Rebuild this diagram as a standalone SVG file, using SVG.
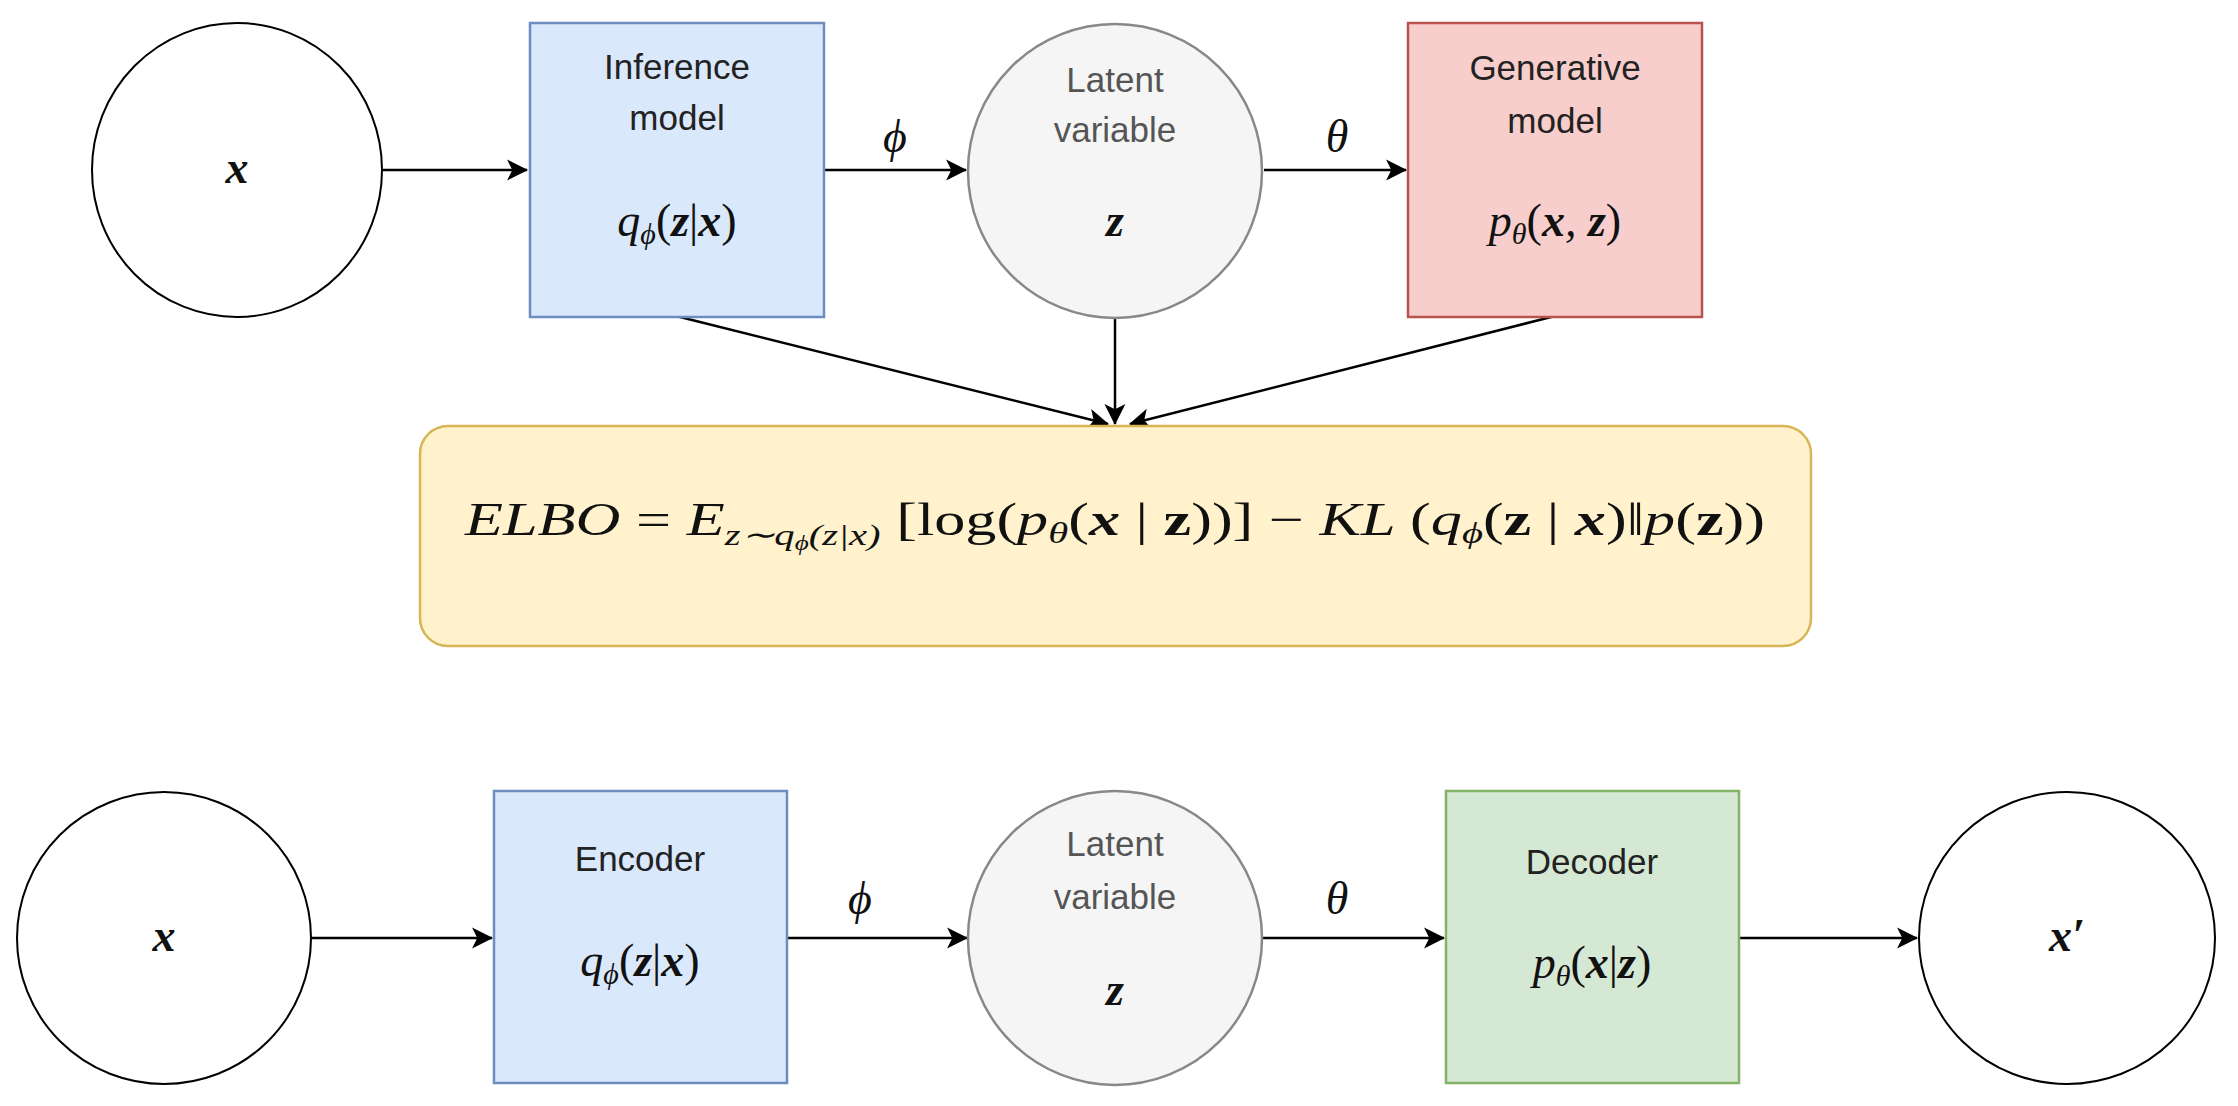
<svg xmlns="http://www.w3.org/2000/svg" width="2238" height="1106" viewBox="0 0 2238 1106">
<style>
.lbl{font-family:"Liberation Sans",Arial,sans-serif;font-size:35px;fill:#222;text-anchor:middle}
.gl{fill:#555}
.m{font-family:"Liberation Serif","Times New Roman",serif;font-style:italic;font-size:46px;fill:#111;text-anchor:middle}
.mb{font-weight:bold}
.up{font-style:normal}
.s{font-size:30px}
.c{stroke-width:2.5;stroke:#000;fill:none}
</style>
<defs>
<marker id="ah" viewBox="0 0 10 10" refX="9" refY="5" markerWidth="7" markerHeight="7" markerUnits="userSpaceOnUse" orient="auto" overflow="visible">
<path d="M0,0 L10,5 L0,10 L2.5,5 Z" fill="#000" transform="scale(3) translate(-6.5,-3.3)"/>
</marker>
</defs>
<rect width="2238" height="1106" fill="#fff"/>
<g id="connectors" class="c">
<line x1="383" y1="170" x2="527" y2="170" marker-end="url(#ah)"/>
<line x1="824" y1="170" x2="966" y2="170" marker-end="url(#ah)"/>
<line x1="1264" y1="170" x2="1406" y2="170" marker-end="url(#ah)"/>
<line x1="676" y1="316" x2="1108" y2="424" marker-end="url(#ah)"/>
<line x1="1115" y1="318" x2="1115" y2="424" marker-end="url(#ah)"/>
<line x1="1555" y1="316" x2="1130" y2="424" marker-end="url(#ah)"/>
<line x1="311" y1="938" x2="492" y2="938" marker-end="url(#ah)"/>
<line x1="787" y1="938" x2="967" y2="938" marker-end="url(#ah)"/>
<line x1="1263" y1="938" x2="1444" y2="938" marker-end="url(#ah)"/>
<line x1="1739" y1="938" x2="1917" y2="938" marker-end="url(#ah)"/>
</g>
<text class="m" x="895" y="152">ϕ</text>
<text class="m" x="1337" y="152">θ</text>
<text class="m" x="860" y="914">ϕ</text>
<text class="m" x="1337" y="914">θ</text>
<g id="x-top"><ellipse cx="237" cy="170" rx="145" ry="147" fill="#fff" stroke="#000" stroke-width="2"/><text class="m mb" x="237" y="183">x</text></g>
<g id="inference"><rect x="530" y="23" width="294" height="294" fill="#dae8fc" stroke="#6c8ebf" stroke-width="2.5"/>
<text class="lbl" x="677" y="79">Inference</text><text class="lbl" x="677" y="130">model</text>
<text class="m" x="677" y="236">q<tspan class="s" dy="8">ϕ</tspan><tspan class="up" dy="-8">(</tspan><tspan class="mb">z</tspan><tspan class="up">|</tspan><tspan class="mb">x</tspan><tspan class="up">)</tspan></text></g>
<g id="latent-top"><circle cx="1115" cy="171" r="147" fill="#f5f5f5" stroke="#888" stroke-width="2.5"/>
<text class="lbl gl" x="1115" y="92">Latent</text><text class="lbl gl" x="1115" y="142">variable</text>
<text class="m mb" x="1115" y="236">z</text></g>
<g id="generative"><rect x="1408" y="23" width="294" height="294" fill="#f8cecc" stroke="#b85450" stroke-width="2.5"/>
<text class="lbl" x="1555" y="80">Generative</text><text class="lbl" x="1555" y="133">model</text>
<text class="m" x="1555" y="236">p<tspan class="s" dy="8">θ</tspan><tspan class="up" dy="-8">(</tspan><tspan class="mb">x</tspan>, <tspan class="mb">z</tspan><tspan class="up">)</tspan></text></g>
<g id="elbo"><rect x="420" y="426" width="1391" height="220" rx="28" fill="#fff2cc" stroke="#d6b656" stroke-width="2.5"/>
<text class="m" x="1115" y="535" textLength="1300" lengthAdjust="spacingAndGlyphs">ELBO <tspan class="up">=</tspan> E<tspan class="s" dy="10">z∼q</tspan><tspan font-size="20" dy="5">ϕ</tspan><tspan class="s" dy="-5">(z|x)</tspan><tspan class="up" dy="-10"> [log(</tspan>p<tspan class="s" dy="8">θ</tspan><tspan class="up" dy="-8">(</tspan><tspan class="mb">x</tspan><tspan class="up"> | </tspan><tspan class="up mb">z</tspan><tspan class="up">))] − </tspan>KL <tspan class="up">(</tspan>q<tspan class="s" dy="8">ϕ</tspan><tspan class="up" dy="-8">(</tspan><tspan class="up mb">z</tspan><tspan class="up"> | </tspan><tspan class="mb">x</tspan><tspan class="up">)‖</tspan>p<tspan class="up">(</tspan><tspan class="up mb">z</tspan><tspan class="up">))</tspan></text></g>
<g id="x-bottom"><ellipse cx="164" cy="938" rx="147" ry="146" fill="#fff" stroke="#000" stroke-width="2"/><text class="m mb" x="164" y="951">x</text></g>
<g id="encoder"><rect x="494" y="791" width="293" height="292" fill="#dae8fc" stroke="#6c8ebf" stroke-width="2.5"/>
<text class="lbl" x="640" y="871">Encoder</text>
<text class="m" x="640" y="976">q<tspan class="s" dy="8">ϕ</tspan><tspan class="up" dy="-8">(</tspan><tspan class="mb">z</tspan><tspan class="up">|</tspan><tspan class="mb">x</tspan><tspan class="up">)</tspan></text></g>
<g id="latent-bottom"><circle cx="1115" cy="938" r="147" fill="#f5f5f5" stroke="#888" stroke-width="2.5"/>
<text class="lbl gl" x="1115" y="856">Latent</text><text class="lbl gl" x="1115" y="909">variable</text>
<text class="m mb" x="1115" y="1005">z</text></g>
<g id="decoder"><rect x="1446" y="791" width="293" height="292" fill="#d5e8d4" stroke="#82b366" stroke-width="2.5"/>
<text class="lbl" x="1592" y="874">Decoder</text>
<text class="m" x="1592" y="978">p<tspan class="s" dy="8">θ</tspan><tspan class="up" dy="-8">(</tspan><tspan class="mb">x</tspan><tspan class="up">|</tspan><tspan class="mb">z</tspan><tspan class="up">)</tspan></text></g>
<g id="x-prime"><ellipse cx="2067" cy="938" rx="148" ry="146" fill="#fff" stroke="#000" stroke-width="2"/><text class="m mb" x="2067" y="951">x′</text></g>
</svg>
